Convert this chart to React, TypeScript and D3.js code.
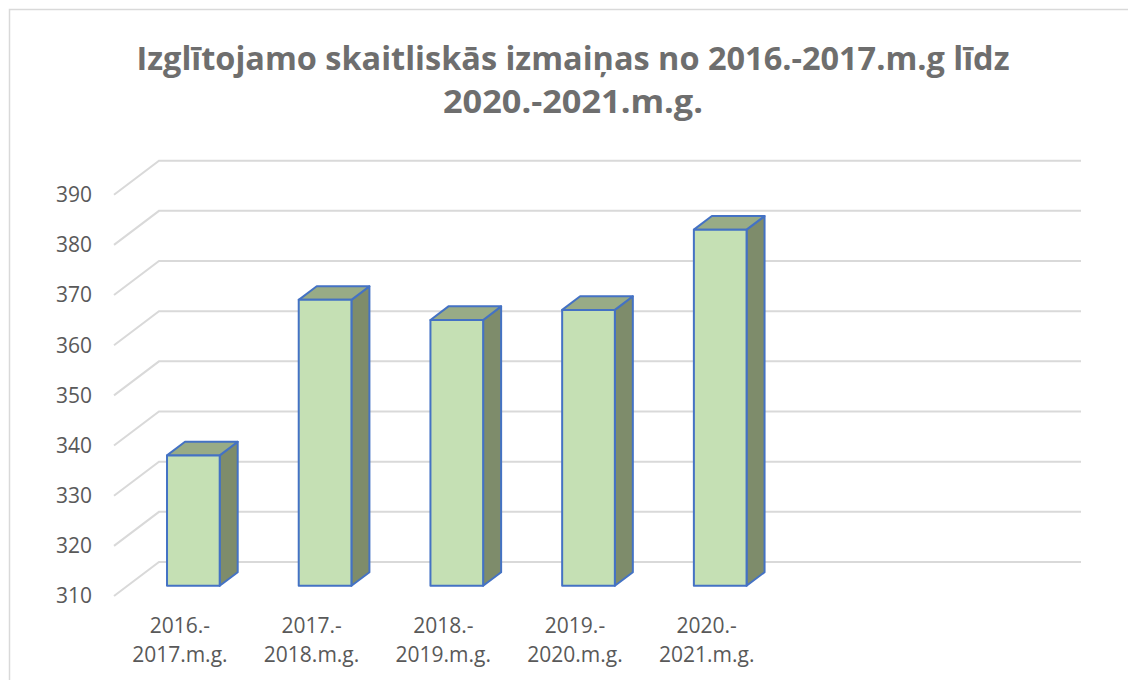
import React from "react";
import * as d3 from "d3";

const categories = ["2016.-|2017.m.g.", "2017.-|2018.m.g.", "2018.-|2019.m.g.", "2019.-|2020.m.g.", "2020.-|2021.m.g."];
const values = [336, 367, 363, 365, 381];
const yTicks = [310, 320, 330, 340, 350, 360, 370, 380, 390];
const titleLines = ["Izglītojamo skaitliskās izmaiņas no 2016.-2017.m.g līdz", "2020.-2021.m.g."];

const W = 1128;
const H = 680;
// 3D geometry
const DX = 45; // depth shift x (front -> back)
const DY = -34; // depth shift y (front -> back)
const frontLeft = 114;
const slots = 7; // plot area slot count (last two empty)
const gridRight = 1081;

export default function App() {
  const backY = d3.scaleLinear().domain([310, 390]).range([562, 160.7]);
  const step = (gridRight - DX - frontLeft) / slots;
  const x = d3
    .scaleBand<string>()
    .domain(categories)
    .range([frontLeft, frontLeft + step * categories.length])
    .paddingInner(0.6)
    .paddingOuter(0.3);
  const frontY = (v: number) => backY(v) - DY;
  const d0 = 0.3;
  const d1 = 0.7;
  const px = (xx: number, d: number) => xx + DX * d;
  const py = (v: number, d: number) => frontY(v) + DY * d;
  const grid = "#D9D9D9";
  const textCol = "#595959";
  const titleCol = "#6E6E6E";
  const font = "'Open Sans', 'Noto Sans', sans-serif";

  return (
    <svg
      width={W}
      height={H}
      style={{ position: "absolute", left: 0, top: 0, display: "block", background: "#fff" }}
    >
      {/* chart border */}
      <path d={`M9.5,${H} L9.5,9.5 L${W},9.5`} fill="none" stroke={grid} strokeWidth={1.5} />
      {/* title */}
      <text x={573} y={70} textAnchor="middle" fill={titleCol} fontFamily={font} fontWeight={700} fontSize={32}
        textLength={873} lengthAdjust="spacingAndGlyphs">
        {titleLines[0]}
      </text>
      <text x={573} y={113} textAnchor="middle" fill={titleCol} fontFamily={font} fontWeight={700} fontSize={32}
        textLength={260} lengthAdjust="spacingAndGlyphs">
        {titleLines[1]}
      </text>
      {/* gridlines */}
      {yTicks.map((t) => (
        <g key={t}>
          <path
            d={`M${frontLeft},${frontY(t)} L${frontLeft + DX},${backY(t)} L${gridRight},${backY(t)}`}
            fill="none"
            stroke={grid}
            strokeWidth={2}
          />
          <text x={92} y={frontY(t)} dy="0.35em" textAnchor="end" fill={textCol} fontFamily={font} fontSize={21}>
            {t}
          </text>
        </g>
      ))}
      {/* bars */}
      {categories.map((c, i) => {
        const v = values[i];
        const xl = x(c)!;
        const xr = xl + x.bandwidth();
        const base = 310;
        const front = `M${px(xl, d0)},${py(v, d0)} L${px(xr, d0)},${py(v, d0)} L${px(xr, d0)},${py(base, d0)} L${px(xl, d0)},${py(base, d0)} Z`;
        const top = `M${px(xl, d0)},${py(v, d0)} L${px(xl, d1)},${py(v, d1)} L${px(xr, d1)},${py(v, d1)} L${px(xr, d0)},${py(v, d0)} Z`;
        const side = `M${px(xr, d0)},${py(v, d0)} L${px(xr, d1)},${py(v, d1)} L${px(xr, d1)},${py(base, d1)} L${px(xr, d0)},${py(base, d0)} Z`;
        return (
          <g key={c} stroke="#4472C4" strokeWidth={2} strokeLinejoin="round">
            <path d={side} fill="#7E8C6B" />
            <path d={top} fill="#98AB86" />
            <path d={front} fill="#C5E0B4" />
          </g>
        );
      })}
      {/* category labels */}
      {categories.map((c) => {
        const cx = x(c)! + x.bandwidth() / 2;
        const lines = c.split("|");
        return (
          <text key={c} textAnchor="middle" fill={textCol} fontFamily={font} fontSize={21}>
            <tspan x={cx} y={633}>{lines[0]}</tspan>
            <tspan x={cx} y={662}>{lines[1]}</tspan>
          </text>
        );
      })}
    </svg>
  );
}
